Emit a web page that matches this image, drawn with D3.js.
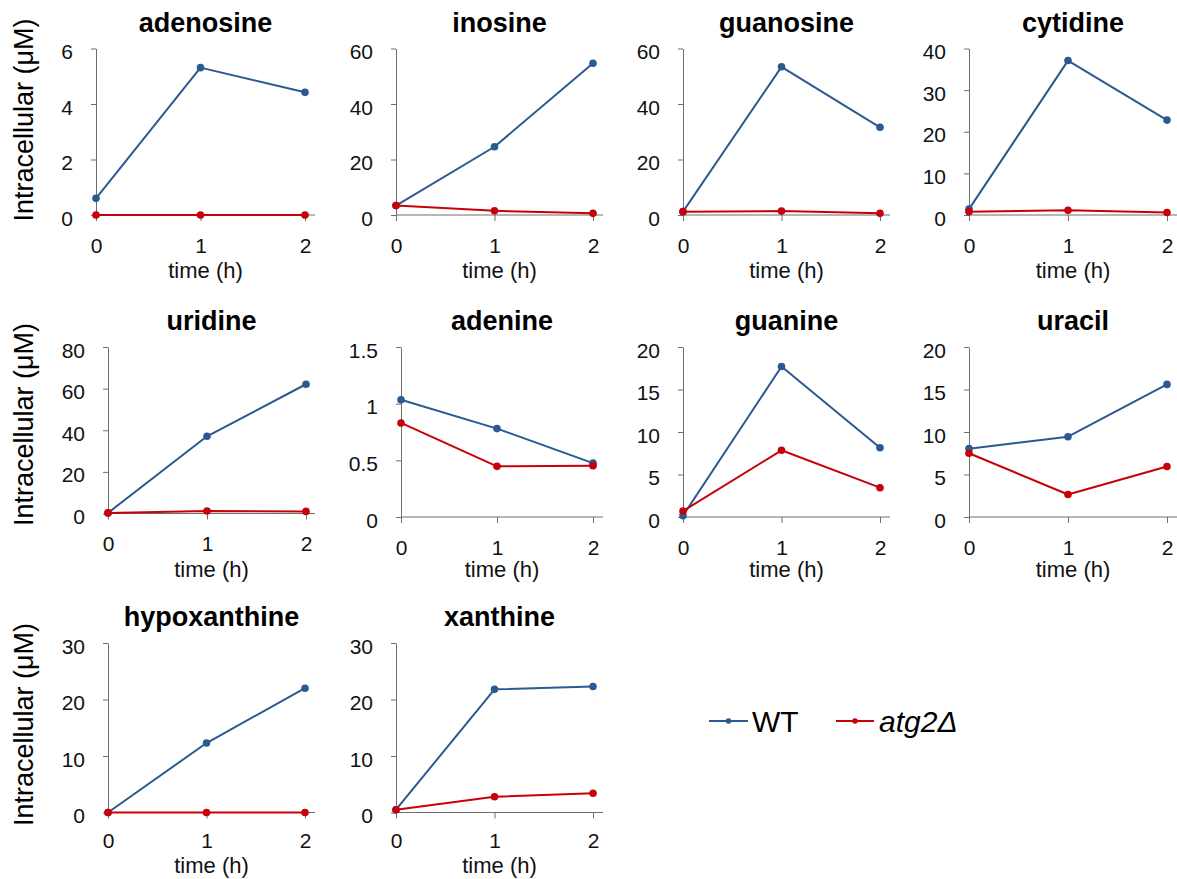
<!DOCTYPE html>
<html>
<head>
<meta charset="utf-8">
<script src="https://cdn.jsdelivr.net/npm/d3@7"></script>
<style>
  html, body { margin: 0; padding: 0; background: #fff; }
  svg { display: block; }
</style>
</head>
<body>
<svg id="chart" width="1177" height="879"></svg>
<script>
// ---------------- DATA ----------------
const compounds = ["adenosine", "inosine", "guanosine", "cytidine", "uridine",
                   "adenine", "guanine", "uracil", "hypoxanthine", "xanthine"];
const timeLabels = ["0", "1", "2"];
const seriesNames = ["WT", "atg2Δ"];
const wtValues = [
  [0.6, 5.31, 4.42],
  [3.4, 24.6, 54.7],
  [1.2, 53.4, 31.6],
  [1.4, 37.1, 22.8],
  [0.3, 37.1, 62.1],
  [1.035, 0.78, 0.475],
  [0.16, 17.7, 8.15],
  [8.04, 9.45, 15.6],
  [0.0, 12.3, 22.0],
  [0.5, 21.8, 22.3]
];
const atg2Values = [
  [0.0, 0.0, 0.0],
  [3.4, 1.5, 0.6],
  [1.2, 1.4, 0.6],
  [0.8, 1.15, 0.6],
  [0.3, 1.2, 1.0],
  [0.83, 0.447, 0.452],
  [0.7, 7.85, 3.45],
  [7.5, 2.65, 5.95],
  [0.0, 0.0, 0.0],
  [0.5, 2.8, 3.4]
];
const yTickValues = [
  [0, 2, 4, 6],
  [0, 20, 40, 60],
  [0, 20, 40, 60],
  [0, 10, 20, 30, 40],
  [0, 20, 40, 60, 80],
  [0, 0.5, 1, 1.5],
  [0, 5, 10, 15, 20],
  [0, 5, 10, 15, 20],
  [0, 10, 20, 30],
  [0, 10, 20, 30]
];
const xAxisTitle = "time (h)";
const yAxisTitle = "Intracellular (μM)";

// ---------------- LAYOUT ----------------
// per panel: [yAxisX, lastPointX, axisEndX, plotTop, plotBottom, xTitleBaseline, xTickPadding]
const layout = [
  [96, 305, 315, 48.5, 215, 278, 17],
  [396, 593, 603, 48.5, 215, 278, 17],
  [683, 880, 890, 48.5, 215, 278, 17],
  [969, 1167, 1177, 48.5, 215, 278, 17],
  [108, 306, 315, 347, 513.5, 577, 17],
  [401, 593, 603, 347, 517, 577, 17],
  [683, 880, 890, 347, 517, 577, 17],
  [969, 1167, 1177, 347, 517, 577, 17],
  [108, 305, 315, 643, 812.5, 873, 15],
  [396, 593, 603, 643, 812.5, 873, 15]
];
const rowLabelCenters = [120, 424.5, 724.5];
const colors = { WT: "#2b5a90", atg2: "#c8000a" };
const axisColor = "#6e6e6e";
const tickFont = "'Liberation Sans', Arial, sans-serif";

const svg = d3.select("#chart");

compounds.forEach((name, i) => {
  const [x0, x2, xEnd, top, bottom, xTitleY, xPad] = layout[i];
  const ticks = yTickValues[i];
  const x = d3.scalePoint().domain(timeLabels).range([x0, x2]);
  const y = d3.scaleLinear().domain([0, d3.max(ticks)]).range([bottom, top]);
  const g = svg.append("g");

  // y axis
  const ya = g.append("g").attr("transform", `translate(${x0},0)`)
    .call(d3.axisLeft(y).tickValues(ticks).tickFormat(d => String(d))
      .tickSize(5).tickSizeOuter(0).tickPadding(18));
  ya.select(".domain").attr("stroke", axisColor);
  ya.selectAll(".tick line").attr("stroke", axisColor);
  ya.selectAll(".tick text").attr("fill", "#111")
    .attr("font-family", tickFont).attr("font-size", 21)
    .attr("dy", "0.48em");

  // x axis
  const xa = g.append("g").attr("transform", `translate(0,${bottom})`)
    .call(d3.axisBottom(x).tickSize(6).tickSizeOuter(0).tickPadding(xPad));
  xa.select(".domain").remove();
  xa.append("line").attr("x1", x0).attr("x2", xEnd).attr("stroke", axisColor);
  xa.selectAll(".tick line").attr("stroke", axisColor);
  xa.selectAll(".tick text").attr("fill", "#111")
    .attr("font-family", tickFont).attr("font-size", 21);

  // x title
  g.append("text").attr("x", (x0 + xEnd) / 2).attr("y", xTitleY)
    .attr("text-anchor", "middle").attr("font-family", "'Liberation Sans', Arial, sans-serif")
    .attr("font-size", 22).attr("fill", "#111").text(xAxisTitle);

  // panel title
  g.append("text").attr("x", (x0 + xEnd) / 2).attr("y", top - 17)
    .attr("text-anchor", "middle").attr("font-family", "'Liberation Sans', Arial, sans-serif")
    .attr("font-weight", "bold").attr("font-size", 27).attr("fill", "#000").text(name);

  const line = d3.line().x((d, j) => x(timeLabels[j])).y(d => y(d));
  [[wtValues[i], colors.WT], [atg2Values[i], colors.atg2]].forEach(([vals, c]) => {
    g.append("path").datum(vals).attr("d", line).attr("fill", "none")
      .attr("stroke", c).attr("stroke-width", 2).attr("stroke-linejoin", "round");
    g.selectAll(null).data(vals).enter().append("circle")
      .attr("cx", (d, j) => x(timeLabels[j])).attr("cy", d => y(d))
      .attr("r", 3.8).attr("fill", c);
  });
});

// row y-axis titles
rowLabelCenters.forEach(cy => {
  svg.append("text").attr("transform", `translate(33,${cy}) rotate(-90)`)
    .attr("text-anchor", "middle").attr("font-family", "'Liberation Sans', Arial, sans-serif")
    .attr("font-size", 27).attr("fill", "#000").text(yAxisTitle);
});

// legend
const legendItems = [
  { name: seriesNames[0], color: colors.WT, x1: 709, x2: 748, tx: 752, italic: false },
  { name: seriesNames[1], color: colors.atg2, x1: 836, x2: 874, tx: 879, italic: true }
];
const lg = svg.append("g");
legendItems.forEach(it => {
  lg.append("line").attr("x1", it.x1).attr("x2", it.x2).attr("y1", 721).attr("y2", 721)
    .attr("stroke", it.color).attr("stroke-width", 2);
  lg.append("circle").attr("cx", (it.x1 + it.x2) / 2).attr("cy", 721).attr("r", 2.8).attr("fill", it.color);
  lg.append("text").attr("x", it.tx).attr("y", 731.5)
    .attr("font-family", "'Liberation Sans', Arial, sans-serif").attr("font-size", 30)
    .attr("font-style", it.italic ? "italic" : "normal").attr("fill", "#000").text(it.name);
});
</script>
</body>
</html>
